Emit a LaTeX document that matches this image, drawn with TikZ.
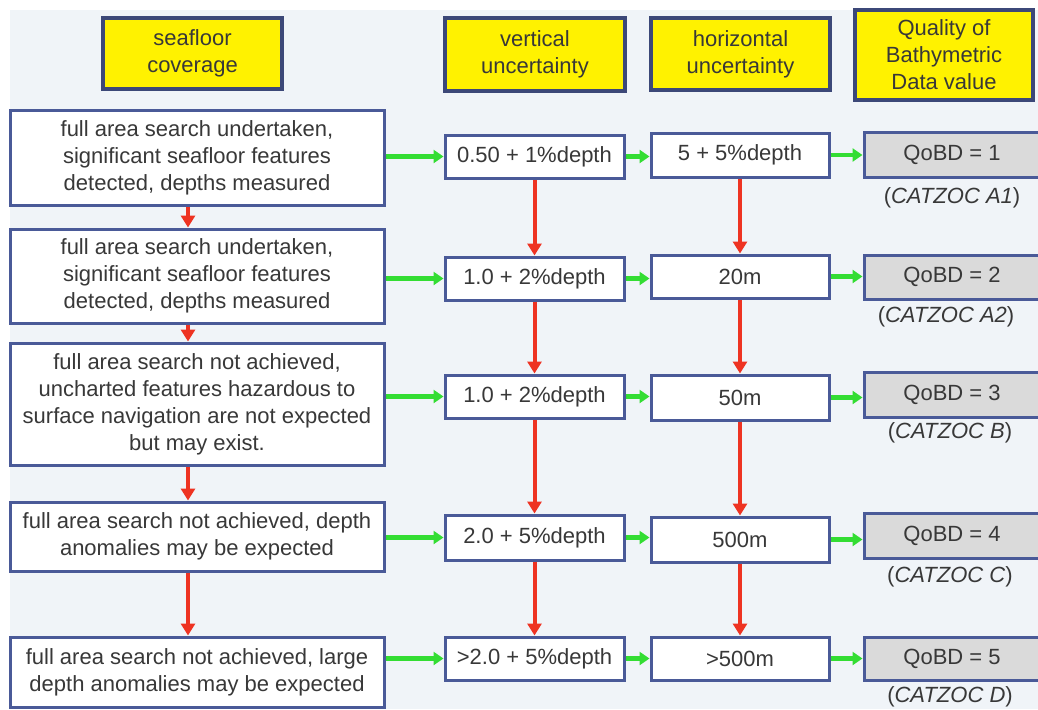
\documentclass[tikz,border=0pt]{standalone}
\usepackage{fontspec}
\setmainfont{Liberation Sans}
\usetikzlibrary{arrows.meta}
\definecolor{bg}{HTML}{F0F4F8}
\definecolor{txt}{HTML}{383838}
\definecolor{hdrc}{HTML}{3C4878}
\definecolor{boxc}{HTML}{4A5A98}
\definecolor{qgray}{HTML}{DADADA}
\definecolor{arred}{HTML}{EE3322}
\definecolor{argreen}{HTML}{33DD33}
\begin{document}
\begin{tikzpicture}[x=1pt,y=-1pt,
  base/.style={font=\fontsize{22}{27}\selectfont, text=txt, align=center, inner sep=0pt},
  hdr/.style={base, fill=yellow, draw=hdrc, line width=3.5pt},
  bx/.style={base, fill=white, draw=boxc, line width=3pt},
  qb/.style={base, fill=qgray, draw=boxc, line width=3pt},
  lbox/.style={bx, minimum width=374pt},
  vbox/.style={bx, minimum width=179pt},
  hbox/.style={bx, minimum width=178pt},
  qbox/.style={qb, minimum width=180pt},
  redarr/.style={draw=arred, line width=4pt, -{Triangle[length=12pt,width=14pt]}},
  grnarr/.style={draw=argreen, line width=4.5pt, -{Triangle[length=10pt,width=13pt]}}]
\useasboundingbox (0,0) rectangle (1038,709);
\clip (0,0) rectangle (1038,709);
\fill[bg] (10,10) rectangle (1038,709);

% headers
\node[hdr, minimum width=179pt, minimum height=71pt] (t1) at (192.5,53.5) {seafloor\\coverage};
\node[hdr, minimum width=180pt, minimum height=73pt] (t2) at (535,54.5) {vertical\\uncertainty};
\node[hdr, minimum width=179pt, minimum height=72pt] (t3) at (740.5,54) {horizontal\\uncertainty};
\node[hdr, minimum width=178pt, minimum height=90pt] (t4) at (944,55) {Quality of\\Bathymetric\\Data value};

% left column
\node[lbox, minimum height=95pt] (l1) at (197,157.5) {full area search undertaken,\\significant seafloor features\\detected, depths measured};
\node[lbox, minimum height=94pt] (l2) at (197,276) {full area search undertaken,\\significant seafloor features\\detected, depths measured};
\node[lbox, minimum height=122pt] (l3) at (197,404) {full area search not achieved,\\uncharted features hazardous to\\surface navigation are not expected\\but may exist.};
\node[lbox, minimum height=69pt] (l4) at (197,536.5) {full area search not achieved, depth\\anomalies may be expected};
\node[lbox, minimum height=70pt] (l5) at (197,672) {full area search not achieved, large\\depth anomalies may be expected};

% vertical uncertainty
\node[vbox, minimum height=43pt] (v1) at (534.5,156.5) {0.50 + 1\%depth};
\node[vbox, minimum height=43pt] (v2) at (534.5,278.5) {1.0 + 2\%depth};
\node[vbox, minimum height=43pt] (v3) at (534.5,396.5) {1.0 + 2\%depth};
\node[vbox, minimum height=45pt] (v4) at (534.5,537.5) {2.0 + 5\%depth};
\node[vbox, minimum height=43pt] (v5) at (534.5,658.5) {>2.0 + 5\%depth};

% horizontal uncertainty
\node[hbox, minimum height=44pt] (h1) at (740,155) {5 + 5\%depth};
\node[hbox, minimum height=43pt] (h2) at (740,276.5) {20m};
\node[hbox, minimum height=45pt] (h3) at (740,397.5) {50m};
\node[hbox, minimum height=45pt] (h4) at (740,539.5) {500m};
\node[hbox, minimum height=43pt] (h5) at (740,658.5) {>500m};

% QoBD
\node[qbox, minimum height=45pt] (q1) at (954,154.5) {QoBD = 1\hspace*{4pt}};
\node[qbox, minimum height=44pt] (q2) at (954,277) {QoBD = 2\hspace*{4pt}};
\node[qbox, minimum height=45pt] (q3) at (954,394.5) {QoBD = 3\hspace*{4pt}};
\node[qbox, minimum height=45pt] (q4) at (954,535.5) {QoBD = 4\hspace*{4pt}};
\node[qbox, minimum height=43pt] (q5) at (954,658.5) {QoBD = 5\hspace*{4pt}};

% CATZOC labels
\node[base] (c1) at (952,198) {(\textit{CATZOC A1})};
\node[base] (c2) at (946,317) {(\textit{CATZOC A2})};
\node[base] (c3) at (950,433) {(\textit{CATZOC B})};
\node[base] (c4) at (950,577) {(\textit{CATZOC C})};
\node[base] (c5) at (950,697) {(\textit{CATZOC D})};

% red arrows
\coordinate (ax) at (188,0);
\draw[redarr] (l1.south -| ax) -- (l2.north -| ax);
\draw[redarr] (l2.south -| ax) -- (l3.north -| ax);
\draw[redarr] (l3.south -| ax) -- (l4.north -| ax);
\draw[redarr] (l4.south -| ax) -- (l5.north -| ax);
\foreach \a/\b in {v1/v2,v2/v3,v3/v4,v4/v5,h1/h2,h2/h3,h3/h4,h4/h5}
  \draw[redarr] (\a.south) -- (\b.north);

% green arrows
\foreach \i in {1,...,5}{
  \draw[grnarr] (l\i.east |- v\i.west) -- (v\i.west);
  \draw[grnarr] (v\i.east) -- (h\i.west |- v\i.east);
  \draw[grnarr] (h\i.east) -- (q\i.west |- h\i.east);
}
\end{tikzpicture}
\end{document}
